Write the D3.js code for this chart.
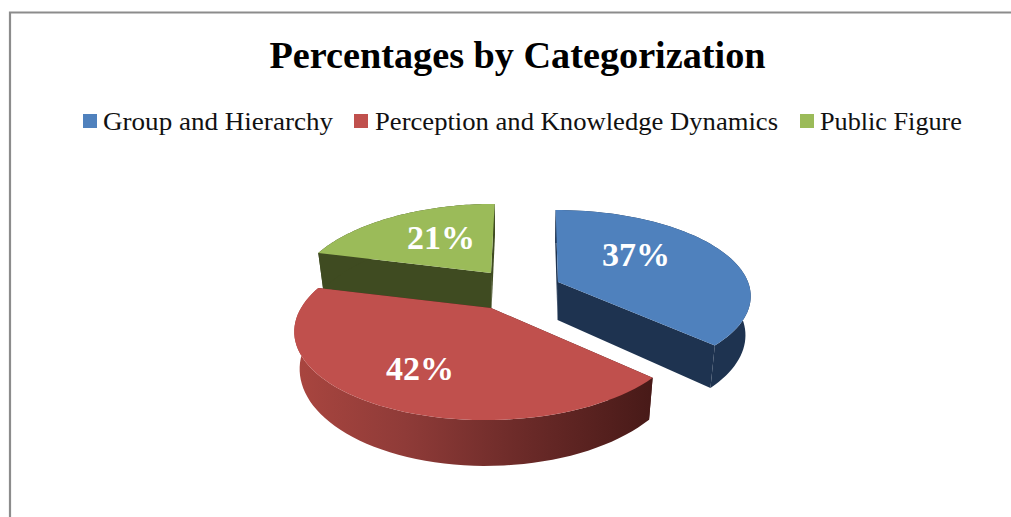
<!DOCTYPE html>
<html><head><meta charset="utf-8">
<script src="https://cdnjs.cloudflare.com/ajax/libs/d3/7.8.5/d3.min.js"></script>
<style>html,body{margin:0;padding:0;background:#fff}svg{display:block}text{font-family:"Liberation Serif",serif}</style>
</head><body><svg id="c" width="1011" height="517"></svg>
<script>
const categories = ["Group and Hierarchy", "Perception and Knowledge Dynamics", "Public Figure"];
const values = [37, 42, 21];
const titleText = "Percentages by Categorization";

const topColors = ["#4f81bd", "#c0504d", "#9bbb59"];
const wallColors = ["#1e3350", "url(#redSide)", "#3f4b21"];
const innerWall = ["#1e3350", "#4a1b19", "#3f4b21"];

const svg = d3.select("#c");
const defs = svg.append("defs");
const grad = defs.append("linearGradient").attr("id", "redSide")
  .attr("gradientUnits", "userSpaceOnUse").attr("x1", 300).attr("x2", 650).attr("y1", 0).attr("y2", 0);
[[0, "#a8453f"], [0.3, "#8f3b38"], [0.6, "#6f2c2a"], [1, "#481a18"]].forEach(s =>
  grad.append("stop").attr("offset", s[0]).attr("stop-color", s[1]));

// frame
svg.append("path").attr("d", "M10,517V12.5H1011").attr("fill", "none").attr("stroke", "#8c8c8c").attr("stroke-width", 2.2);

// title
svg.append("text").attr("x", 517.5).attr("y", 68).attr("text-anchor", "middle")
  .attr("font-size", 37).attr("font-weight", "bold").attr("fill", "#000")
  .attr("textLength", 496).attr("lengthAdjust", "spacingAndGlyphs").text(titleText);

// legend
const legendLayout = [{sx: 83, tx: 103, w: 230}, {sx: 354, tx: 375, w: 403}, {sx: 800, tx: 820, w: 142}];
const lg = svg.append("g").selectAll("g").data(categories).join("g");
lg.append("rect").attr("x", (d, i) => legendLayout[i].sx).attr("y", 114).attr("width", 14).attr("height", 14)
  .attr("fill", (d, i) => topColors[i]);
lg.append("text").attr("x", (d, i) => legendLayout[i].tx).attr("y", 130).attr("font-size", 26).attr("fill", "#111")
  .attr("textLength", (d, i) => legendLayout[i].w).attr("lengthAdjust", "spacingAndGlyphs").text(d => d);

// perspective projection of the pie
const R = 190;
const geom = [
  {ax: 558, ay: 282, vx: 540, depth: 38, ry: 83,   p: 0.153, lx: 636, ly: 254},
  {ax: 491, ay: 308, vx: 510, depth: 35, ry: 85.5, p: 0.237, lx: 420, ly: 368},
  {ax: 491, ay: 273, vx: 510, depth: 38, ry: 85.5, p: 0.237, lx: 441, ly: 237}
];
function proj(g, theta, r, z) {
  const c = -Math.cos(theta) * r / R;
  const s = 1 / (1 - g.p * c);
  const k = z ? 0.975 : 1;
  return [g.vx + (g.ax - g.vx + r * Math.sin(theta)) * s * k,
          g.ay + c * g.ry * s + (z ? g.depth * s : 0)];
}
const pie = d3.pie().sort(null).value(d => d);
const arcs = pie(values);
const line = d3.line();
const sampleAngles = a => d3.range(0, 65).map(i => d3.interpolateNumber(a.startAngle, a.endAngle)(i / 64));

[2, 1, 0].forEach(i => {
  const a = arcs[i], g = geom[i];
  const angs = sampleAngles(a);
  const group = svg.append("g");
  const bot = t => proj(g, t, R, 1), top = t => proj(g, t, R, 0);
  const aTop = proj(g, 0, 0, 0), aBot = proj(g, 0, 0, 1);
  // radial walls
  [a.startAngle, a.endAngle].forEach(t => {
    group.append("path").attr("fill", innerWall[i])
      .attr("d", line([aTop, top(t), bot(t), aBot]) + "Z");
  });
  // outer wall
  group.append("path").attr("fill", wallColors[i])
    .attr("d", line(angs.map(top).concat(angs.slice().reverse().map(bot))) + "Z");
  // top face
  group.append("path").attr("fill", topColors[i])
    .attr("d", line([aTop].concat(angs.map(top))) + "Z");
});

// value labels
svg.append("g").selectAll("text").data(arcs).join("text")
  .attr("x", (d, i) => geom[i].lx).attr("y", (d, i) => geom[i].ly + 12)
  .attr("text-anchor", "middle").attr("font-size", 34).attr("font-weight", "bold").attr("fill", "#fff")
  .text(d => d.data + "%");
</script></body></html>
